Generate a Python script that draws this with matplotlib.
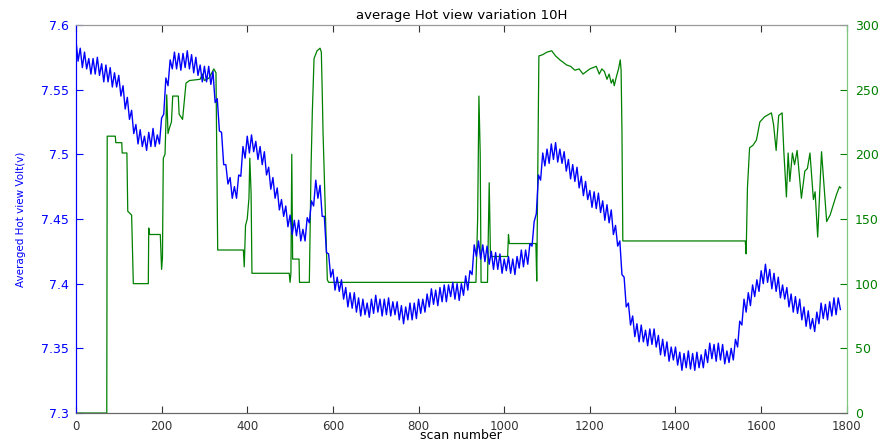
import numpy as np
import matplotlib
matplotlib.use("Agg")
import matplotlib.pyplot as plt

# averaged hot view voltage, read at scans 0, 10, 20, ...
volt_tens = [
    7.588, 7.582, 7.579, 7.574, 7.574, 7.575, 7.570, 7.569, 7.567, 7.563,
    7.561, 7.553, 7.544, 7.534, 7.523, 7.519, 7.514, 7.517, 7.520, 7.515,
    7.528, 7.559, 7.573, 7.579, 7.578, 7.578, 7.580, 7.577, 7.575, 7.569,
    7.568, 7.568, 7.564, 7.543, 7.517, 7.492, 7.482, 7.475, 7.484, 7.506,
    7.514, 7.515, 7.510, 7.506, 7.502, 7.490, 7.482, 7.474, 7.465, 7.460,
    7.453, 7.449, 7.449, 7.442, 7.451, 7.464, 7.480, 7.476, 7.452, 7.423,
    7.411, 7.405, 7.403, 7.397, 7.393, 7.393, 7.389, 7.388, 7.385, 7.388,
    7.391, 7.388, 7.388, 7.389, 7.386, 7.386, 7.383, 7.382, 7.385, 7.385,
    7.388, 7.388, 7.392, 7.396, 7.395, 7.397, 7.399, 7.399, 7.401, 7.400,
    7.400, 7.406, 7.410, 7.430, 7.433, 7.430, 7.429, 7.425, 7.424, 7.423,
    7.419, 7.421, 7.419, 7.421, 7.426, 7.426, 7.431, 7.448, 7.484, 7.501,
    7.504, 7.508, 7.509, 7.504, 7.502, 7.496, 7.492, 7.490, 7.483, 7.479,
    7.472, 7.471, 7.470, 7.464, 7.461, 7.457, 7.445, 7.433, 7.405, 7.385,
    7.375, 7.369, 7.368, 7.364, 7.365, 7.365, 7.360, 7.357, 7.355, 7.351,
    7.351, 7.347, 7.346, 7.348, 7.346, 7.347, 7.345, 7.349, 7.354, 7.353,
    7.354, 7.353, 7.348, 7.350, 7.357, 7.371, 7.388, 7.393, 7.399, 7.403,
    7.410, 7.415, 7.411, 7.408, 7.405, 7.399, 7.397, 7.392, 7.390, 7.388,
    7.382, 7.379, 7.373, 7.378, 7.385, 7.384, 7.386, 7.389, 7.389,
]
# and at scans 5, 15, 25, ...
volt_fives = [
    7.572, 7.567, 7.566, 7.562, 7.562, 7.561, 7.556, 7.556, 7.552, 7.552,
    7.545, 7.535, 7.527, 7.516, 7.508, 7.506, 7.503, 7.506, 7.506, 7.508,
    7.531, 7.553, 7.566, 7.566, 7.565, 7.567, 7.566, 7.563, 7.561, 7.556,
    7.556, 7.554, 7.540, 7.518, 7.492, 7.477, 7.466, 7.466, 7.483, 7.497,
    7.501, 7.502, 7.496, 7.492, 7.484, 7.473, 7.466, 7.457, 7.452, 7.444,
    7.438, 7.437, 7.433, 7.433, 7.447, 7.460, 7.466, 7.452, 7.424, 7.405,
    7.395, 7.394, 7.388, 7.382, 7.381, 7.378, 7.375, 7.376, 7.374, 7.377,
    7.378, 7.375, 7.376, 7.375, 7.376, 7.372, 7.369, 7.372, 7.372, 7.373,
    7.377, 7.378, 7.382, 7.384, 7.383, 7.386, 7.386, 7.390, 7.388, 7.387,
    7.391, 7.395, 7.407, 7.421, 7.419, 7.417, 7.415, 7.411, 7.411, 7.408,
    7.410, 7.408, 7.407, 7.412, 7.413, 7.415, 7.429, 7.454, 7.480, 7.491,
    7.493, 7.496, 7.494, 7.493, 7.487, 7.481, 7.479, 7.474, 7.468, 7.465,
    7.459, 7.458, 7.455, 7.449, 7.447, 7.438, 7.429, 7.407, 7.382, 7.368,
    7.359, 7.355, 7.355, 7.352, 7.353, 7.351, 7.345, 7.344, 7.340, 7.341,
    7.337, 7.333, 7.335, 7.334, 7.333, 7.335, 7.335, 7.339, 7.342, 7.340,
    7.341, 7.338, 7.339, 7.341, 7.351, 7.368, 7.378, 7.383, 7.390, 7.394,
    7.400, 7.401, 7.396, 7.394, 7.389, 7.388, 7.382, 7.378, 7.377, 7.372,
    7.367, 7.365, 7.363, 7.369, 7.373, 7.372, 7.375, 7.376, 7.380,
]

# second quantity (right axis), read at its break points
step_scan = [
    0, 72, 73, 92, 93, 107, 108, 119, 121, 130, 134, 169, 170, 172, 197, 200,
    202, 204, 208, 212, 215, 218, 223, 226, 239, 241, 249, 257, 265, 290, 295,
    300, 311, 322, 327, 331, 391, 393, 396, 400, 404, 406, 409, 411, 498, 500,
    502, 504, 506, 521, 522, 545, 549, 552, 556, 563, 570, 573, 575, 577, 581,
    587, 590, 934, 938, 941, 944, 946, 961, 965, 968, 1008, 1010, 1012, 1074,
    1076, 1081, 1090, 1100, 1111, 1120, 1130, 1146, 1155, 1165, 1175, 1184,
    1200, 1215, 1222, 1228, 1234, 1240, 1245, 1250, 1254, 1257, 1262, 1267,
    1271, 1273, 1275, 1277, 1563, 1565, 1568, 1573, 1581, 1589, 1597, 1608,
    1624, 1629, 1635, 1641, 1649, 1653, 1659, 1663, 1667, 1673, 1678, 1684,
    1694, 1702, 1708, 1714, 1722, 1726, 1732, 1741, 1753, 1761, 1776, 1783,
    1786,
]
step_val = [
    0, 0, 214, 214, 209, 209, 201, 201, 156, 153, 100, 100, 143, 138, 138, 111,
    120, 197, 200, 246, 216, 220, 225, 245, 245, 231, 227, 255, 257, 258, 262,
    257, 259, 266, 263, 126, 126, 113, 145, 150, 166, 197, 170, 108, 108, 101,
    108, 200, 119, 119, 101, 101, 190, 233, 274, 280, 282, 279, 250, 217, 171,
    103, 101, 101, 150, 245, 200, 101, 101, 178, 121, 121, 138, 131, 131,
    102, 276, 277, 279, 280, 276, 273, 269, 268, 265, 266, 262,
    266, 268, 262, 266, 264, 258, 262, 255, 258, 253, 260, 266,
    273, 265, 217, 133, 133, 123, 174, 205, 207, 211, 225, 229,
    232, 223, 203, 230, 232, 202, 167, 201, 179, 201, 192, 203,
    166, 187, 189, 201, 165, 171, 136, 202, 148, 153, 169, 175,
    174,
]

blue = "#0000ff"
green = "#008000"

# merge the two readings into one series, scan 0, 5, 10, ...
volt_scan = np.arange(0, 1790, 5)
volt = np.column_stack([volt_tens, volt_fives]).ravel()

plt.rcParams['font.family'] = ['DejaVu Sans']

fig = plt.figure(figsize=(8.83, 4.42), dpi=100)
ax = fig.add_axes([0.086, 0.0656, 0.873, 0.878])
ax2 = ax.twinx()

ax2.plot(step_scan, step_val, color=green, linewidth=0.9)
ax.plot(volt_scan, volt, color=blue, linewidth=1.0)
ax.set_zorder(ax2.get_zorder() + 1)
ax.patch.set_visible(False)

ax.set_xlim(0, 1800)
ax.set_ylim(7.3, 7.6)
ax2.set_ylim(0, 300)
ax.set_xticks(range(0, 1801, 200))
ax.set_yticks([7.3, 7.35, 7.4, 7.45, 7.5, 7.55, 7.6])
ax.set_yticklabels(["7.3", "7.35", "7.4", "7.45", "7.5", "7.55", "7.6"])
ax2.set_yticks(range(0, 301, 50))

ax.tick_params(axis='x', direction='in', top=True, length=5, labelsize=8.5, colors='#333333', pad=5)
ax.tick_params(axis='y', direction='in', length=5, labelsize=9, colors=blue, labelcolor=blue, pad=5)
ax2.tick_params(axis='y', direction='in', length=5, labelsize=9, colors=green, labelcolor=green, pad=6)

for a in (ax, ax2):
    a.spines['top'].set_color('#999999')
    a.spines['bottom'].set_color('#666666')
    a.spines['left'].set_color(blue)
    a.spines['right'].set_color('#7fc77f')

ax.set_title('average Hot view variation 10H', fontsize=9.5, pad=4)
ax.set_xlabel('scan number', fontsize=9, labelpad=-3)
ax.set_ylabel('Averaged Hot view Volt(v)', fontsize=7.5, color=blue, labelpad=11)

fig.savefig('out.png', dpi=100)
